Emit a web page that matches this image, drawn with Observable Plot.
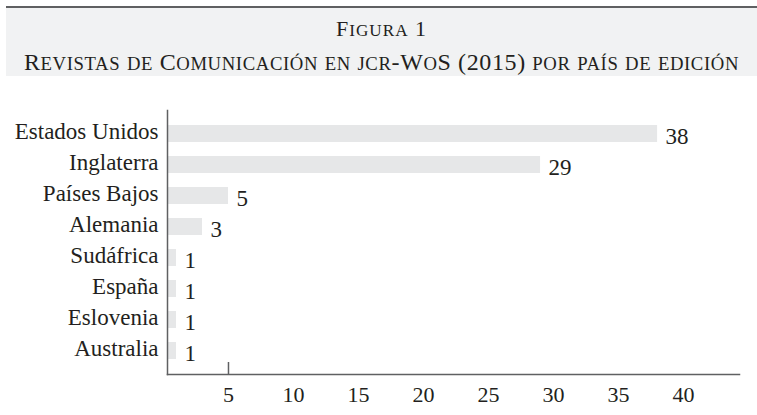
<!DOCTYPE html>
<html><head><meta charset="utf-8">
<script src="https://cdn.jsdelivr.net/npm/d3@7"></script>
<script src="https://cdn.jsdelivr.net/npm/@observablehq/plot@0.6"></script>
<style>
body{margin:0;background:#fff;font-family:"Liberation Serif","Times New Roman",serif;color:#231f20;}
#hdr{position:relative;margin:6px 0 0 6px;border-top:2px solid #5f6062;background:#f1f2f3;height:68px;}
.t{position:absolute;left:0;right:0;text-align:center;white-space:nowrap;}
.t .sc{font-size:0.78em;text-transform:uppercase;}
#t1{top:10.3px;font-size:22px;line-height:22px;}
#t2{top:42.4px;font-size:24px;line-height:24px;}
#chart svg{display:block}
</style></head><body>
<div id="hdr"><div class="t" id="t1"></div><div class="t" id="t2"></div></div>
<div id="chart"></div>
<script>
const titulo = "Figura 1";
const subtitulo = "Revistas de Comunicación en jcr-WoS (2015) por país de edición";
const paises = ["Estados Unidos","Inglaterra","Países Bajos","Alemania","Sudáfrica","España","Eslovenia","Australia"];
const revistas = [38,29,5,3,1,1,1,1];
const xTicks = [5,10,15,20,25,30,35,40];
const tickMarks = [5];

// manual small caps: lowercase runs rendered as reduced uppercase
function smallCaps(el, text, targetWidth) {
  const inner = document.createElement("span");
  inner.style.display = "inline-block";
  const runs = text.match(/[a-záéíóúñü]+|[^a-záéíóúñü]+/g);
  for (const r of runs) {
    const s = document.createElement("span");
    if (/[a-záéíóúñü]/.test(r)) s.className = "sc";
    s.textContent = r;
    inner.appendChild(s);
  }
  el.appendChild(inner);
  if (targetWidth) {
    const w = inner.getBoundingClientRect().width;
    const n = text.length;
    inner.style.letterSpacing = ((targetWidth - w) / n) + "px";
  }
}
smallCaps(document.getElementById("t1"), titulo, 91);
smallCaps(document.getElementById("t2"), subtitulo, 715);

const data = paises.map((p,i)=>({pais:p, n:revistas[i]}));
const axisColor = "#5f6062";
const chart = Plot.plot({
  width: 757, height: 339,
  marginLeft: 167, marginRight: 18, marginTop: 34, marginBottom: 41,
  style: {fontFamily: '"Liberation Serif","Times New Roman",serif', fontSize: "22px", color: "#231f20", background: "#fff", overflow: "visible"},
  x: {domain: [0.31, 44.3], clamp: true, label: null},
  y: {domain: paises, paddingInner: 0.44, paddingOuter: 0.42, label: null},
  marks: [
    Plot.barX(data, {x: "n", y: "pais", fill: "#e6e7e8"}),
    Plot.text(data, {x: "n", y: "pais", text: d => String(d.n), textAnchor: "start", dx: 8, dy: 3, fontSize: 23, fill: "#231f20"}),
    Plot.axisY({tickSize: 0, tickPadding: 9, dy: -2.3, fontSize: 23, fill: "#231f20", label: null}),
    Plot.axisX(xTicks, {tickSize: 0, tickPadding: 11.6, fontSize: 22, fill: "#231f20", label: null}),
    Plot.tickX(tickMarks, {x: d => d, stroke: axisColor, strokeWidth: 1.5, insetTop: 252}),
    Plot.frame({anchor: "left", stroke: axisColor, strokeWidth: 1.5}),
    Plot.frame({anchor: "bottom", stroke: axisColor, strokeWidth: 1.5})
  ]
});
document.getElementById("chart").appendChild(chart);
</script>
</body></html>
